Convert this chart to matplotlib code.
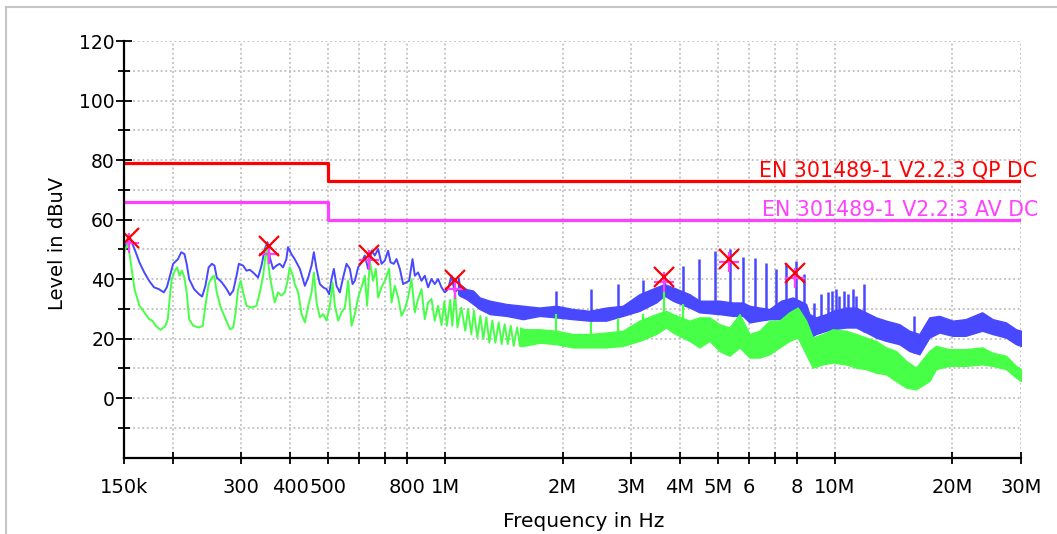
import numpy as np
import matplotlib
matplotlib.use("Agg")
import matplotlib.pyplot as plt
from matplotlib.lines import Line2D
from matplotlib.ticker import FixedLocator, FixedFormatter, NullFormatter

# ---------------- data (frequency in kHz, level in dBuV) ----------------
# peak trace, resolved part
peak_f = [150.0, 150.6, 155.1, 159.6, 164.3, 169.1, 174.0, 179.1, 184.3, 189.7, 193.2, 196.8,
          200.5, 206.4, 210.3, 214.3, 217.2, 220.4, 226.9, 233.6, 238.0, 242.6, 247.3, 252.1,
          256.0, 259.5, 267.2, 275.1, 280.5, 286.0, 291.6, 295.6, 303.2, 309.2, 315.3, 321.6,
          331.2, 337.9, 344.6, 350.0, 354.8, 361.8, 369.0, 376.3, 383.8, 391.4, 395.2, 403.1,
          411.1, 423.9, 436.6, 445.2, 454.2, 460.4, 467.8, 477.0, 486.4, 496.2, 503.9, 511.1,
          518.1, 526.4, 536.8, 547.3, 558.4, 569.4, 578.6, 586.5, 598.0, 610.1, 622.1, 634.4,
          647.3, 660.0, 673.0, 686.6, 700.1, 713.9, 724.1, 738.3, 750.2, 765.0, 780.0, 795.8,
          808.2, 824.6, 835.8, 852.2, 869.5, 886.6, 904.1, 922.3, 940.4, 959.0, 978.5, 997.7,
          1017, 1038, 1058, 1079]
peak_lvl = [50.0, 50.7, 54.0, 50.1, 45.6, 42.2, 39.4, 37.2, 36.6, 35.5, 37.2, 41.1,
            45.1, 46.7, 49.0, 48.4, 45.1, 40.0, 36.6, 34.9, 34.1, 37.7, 43.9, 45.1,
            44.5, 40.5, 38.9, 36.6, 34.6, 36.1, 41.1, 45.1, 44.5, 42.8, 43.1, 42.2,
            40.5, 44.5, 50.1, 52.4, 47.3, 43.4, 44.5, 45.1, 43.9, 46.7, 50.7, 48.4,
            46.7, 43.4, 37.7, 40.5, 44.5, 49.0, 43.4, 38.3, 37.2, 36.6, 34.9, 40.0,
            43.4, 37.7, 35.5, 40.5, 45.1, 43.4, 38.3, 39.4, 43.9, 45.6, 47.9, 43.4,
            49.5, 47.9, 50.1, 45.1, 46.2, 49.5, 45.6, 45.1, 46.7, 43.4, 38.3, 38.9,
            39.4, 46.7, 41.1, 42.2, 39.4, 41.1, 37.2, 40.0, 38.3, 40.0, 37.2, 35.5,
            36.6, 41.1, 35.5, 36.6]

# peak trace, dense part (upper / lower edge of the sweep)
peak_band_f = [1079, 1089, 1133, 1179, 1226, 1301, 1436, 1583, 1747, 1927, 2126, 2346, 2589,
               2855, 3151, 3476, 3651, 3836, 4233, 4491, 5054, 5468, 5801, 6034, 6402, 6789,
               7273, 7792, 8106, 8430, 8597, 8939, 9485, 9864, 10674, 11324, 12251, 12743,
               13517, 14617, 15514, 16457, 17457, 18519, 20037, 21607, 23846, 25370, 27450,
               29121, 30000]
peak_hi = [41.0, 38.3, 36.6, 36.1, 33.8, 32.7, 31.6, 31.0, 30.4, 31.0, 29.9, 29.3, 30.4,
           31.0, 34.9, 37.2, 38.3, 37.2, 34.9, 32.7, 32.7, 32.1, 32.1, 31.0, 30.4, 29.9,
           32.7, 33.8, 32.7, 31.6, 28.2, 27.1, 28.2, 29.3, 30.4, 30.4, 28.2, 27.1,
           26.0, 24.8, 22.6, 21.5, 27.1, 27.6, 26.0, 26.5, 28.8, 26.5, 25.4,
           23.1, 22.6]
peak_lo = [35.0, 34.4, 33.3, 31.6, 29.9, 28.2, 27.6, 26.5, 27.6, 27.1, 26.5, 26.0, 26.0,
           27.6, 29.3, 32.1, 34.4, 32.7, 30.4, 28.8, 28.2, 27.6, 27.6, 25.4, 26.0, 26.5,
           26.5, 28.2, 27.1, 23.7, 20.3, 21.5, 22.6, 23.1, 23.7, 23.7, 21.5, 20.3,
           19.2, 18.1, 15.8, 14.7, 20.3, 22.0, 20.9, 20.9, 22.6, 21.5, 20.3,
           18.1, 17.5]

# narrow-band peaks standing out of the peak sweep
peak_spike_f = [1919, 2360, 2773, 3213, 3650, 4070, 4470, 4920, 5370, 5800, 6230, 6670, 7070,
                7490, 7946, 8346, 8854, 9211, 9580, 9828, 10063, 10262, 10569, 10780, 11103,
                11324, 11894, 15979]
peak_spike_lvl = [36.1, 36.6, 38.3, 39.5, 41.5, 44.5, 46.7, 49.5, 50.2, 47.5, 47.0, 45.4, 43.5,
                  45.5, 46.0, 41.7, 32.1, 34.9, 35.5, 36.1, 36.6, 34.4, 36.1, 34.9, 36.6,
                  34.4, 38.3, 27.6]

# average trace, resolved part
avg_f = [150.0, 150.6, 153.6, 156.5, 159.6, 164.3, 169.1, 174.0, 177.4, 180.8, 186.2, 191.7,
         194.3, 196.4, 198.9, 202.6, 205.3, 208.2, 211.1, 214.3, 217.2, 220.4, 225.6, 233.6,
         238.9, 242.6, 247.3, 252.1, 255.5, 259.5, 265.6, 273.5, 280.5, 286.0, 290.0, 294.3,
         298.8, 303.2, 309.2, 318.5, 328.0, 334.6, 341.2, 348.0, 354.8, 365.4, 372.6, 380.0,
         387.5, 393.6, 399.1, 406.9, 411.1, 419.7, 428.1, 436.6, 445.3, 454.2, 460.4, 467.8,
         477.0, 486.4, 496.2, 506.0, 514.1, 521.2, 531.5, 542.1, 552.9, 563.8, 575.1, 586.5,
         598.0, 610.1, 622.1, 630.7, 640.8, 653.4, 663.9, 673.0, 686.6, 700.1, 718.2, 728.4,
         742.7, 757.3, 772.7, 787.8, 803.4, 819.7, 835.8, 852.2, 869.5, 886.6, 904.1, 922.3,
         940.4, 959.0, 978.5, 995, 1010, 1030, 1043, 1060, 1075, 1100, 1126, 1144, 1167,
         1185, 1209, 1231, 1253, 1275, 1298, 1321, 1345, 1372, 1396, 1421, 1447, 1473,
         1499, 1529, 1556, 1583]
avg_lvl = [48.0, 49.5, 52.0, 44.5, 36.6, 31.0, 28.8, 26.5, 26.0, 24.3, 22.9, 24.3,
           26.5, 33.3, 40.0, 42.8, 43.9, 41.1, 42.8, 40.5, 35.5, 26.5, 24.3, 23.7,
           24.3, 31.0, 38.3, 40.5, 41.1, 35.5, 30.4, 26.5, 23.1, 23.7, 28.8, 36.6,
           39.4, 35.5, 31.0, 30.4, 31.0, 35.5, 41.1, 50.7, 41.1, 32.1, 35.5, 34.4,
           35.5, 38.9, 43.9, 41.1, 38.3, 35.5, 28.2, 25.4, 31.0, 35.5, 42.2, 32.1,
           27.1, 28.2, 26.0, 31.0, 38.9, 31.0, 26.0, 28.8, 30.4, 39.4, 24.3, 28.2,
           33.8, 37.2, 41.1, 31.0, 46.0, 39.4, 43.4, 33.8, 37.2, 39.4, 43.4, 32.1,
           37.7, 33.8, 27.6, 29.9, 33.8, 40.0, 28.8, 33.3, 36.6, 26.5, 32.1, 33.3,
           26.0, 31.0, 24.5, 32.5, 24.3, 33.0, 24.3, 36.0, 23.7, 30.4, 22.6, 29.9, 21.5,
           29.3, 20.3, 27.6, 19.8, 27.1, 18.6, 26.0, 18.6, 25.4, 18.1, 24.8, 18.1, 24.3,
           17.5, 23.7, 17.5, 23.1]

# average trace, dense part
avg_band_f = [1556, 1583, 1750, 1927, 2126, 2346, 2589, 2855, 3151, 3476, 3687, 3836, 4233,
              4491, 4764, 5054, 5362, 5688, 6034, 6402, 6789, 7202, 7640, 8024, 8430, 8768,
              9301, 9864, 10674, 11324, 12011, 12743, 13517, 14339, 15212, 16128, 17457,
              18159, 19638, 21607, 23846, 25370, 27450, 29121, 30000]
avg_hi = [23.7, 23.1, 23.1, 22.6, 21.5, 21.5, 22.0, 22.6, 26.0, 28.2, 29.3, 28.2, 26.0,
          27.1, 27.1, 24.8, 23.7, 28.2, 21.5, 22.6, 26.0, 26.0, 28.8, 30.4, 26.0, 20.3,
          21.5, 23.1, 22.6, 21.5, 20.3, 19.2, 17.0, 15.8, 12.5, 10.2, 15.8,
          17.5, 16.4, 16.4, 17.0, 15.2, 14.2, 10.8, 9.7]
avg_lo = [17.5, 17.5, 18.6, 18.1, 17.0, 17.0, 17.0, 17.5, 19.2, 21.5, 23.7, 22.0, 19.2,
          17.0, 19.2, 15.8, 14.2, 17.0, 13.6, 13.6, 14.7, 17.0, 19.2, 20.3, 14.7, 10.2,
          11.3, 11.9, 11.3, 10.2, 9.7, 8.5, 8.0, 5.7, 3.5, 2.9, 5.7,
          9.7, 10.8, 10.8, 11.3, 10.8, 9.7, 6.9, 5.7]

avg_spike_f = [1919, 2360, 2773, 3213, 3650, 4070]
avg_spike_lvl = [28.2, 25.5, 27.0, 28.3, 35.5, 31.6]

# final measurement points
mark_f = [154.5, 354.0, 636.0, 1058.0, 3640.0, 5360.0, 7910.0]
mark_qp = [53.7, 51.2, 48.1, 39.5, 40.8, 46.7, 42.0]
mark_av = [52.2, 48.4, 46.5, 36.6, 39.1, 45.6, 40.3]

# limit lines
limit_f = [150.0, 500.0, 30000.0]
limit_qp = [79.0, 73.0, 73.0]
limit_av = [66.0, 60.0, 60.0]
label_qp = "EN 301489-1 V2.2.3 QP DC"
label_av = "EN 301489-1 V2.2.3 AV DC"

# axis ticks
xtick_khz = [150, 200, 300, 400, 500, 600, 700, 800, 1000, 2000, 3000, 4000, 5000, 6000,
             7000, 8000, 10000, 20000, 30000]
xtick_labels = ["150k", "", "300", "400", "500", "", "", "800", "1M", "2M", "3M", "4M", "5M",
                "6", "", "8", "10M", "20M", "30M"]
ytick_major = [0, 20, 40, 60, 80, 100, 120]
ytick_minor = [-10, 10, 30, 50, 70, 90, 110]

# ---------------- drawing ----------------
BLUE = "#4848ff"
GREEN = "#48ff48"
RED = "#ff0000"
MAGENTA = "#ff40ff"
GRID = "#b4b4b4"

plt.rcParams["font.family"] = ["DejaVu Sans"]

W, H = 1057, 534
fig = plt.figure(figsize=(W / 100, H / 100), dpi=100)
fig.patch.set_facecolor("white")
ax = fig.add_axes([124 / W, 1 - 457.5 / H, (1021 - 124) / W, (457.5 - 41) / H])

khz = lambda v: np.asarray(v, dtype=float) * 1e3

ax.set_xscale("log")
ax.set_xlim(150e3, 30e6)
ax.set_ylim(-20, 120)

# grid
for f in xtick_khz[1:]:
    ax.axvline(f * 1e3, color=GRID, lw=1.1, ls=(0, (1.2, 1.8)), zorder=0)
for v in ytick_major + ytick_minor:
    ax.axhline(v, color=GRID, lw=1.1, ls=(0, (1.2, 1.8)), zorder=0)

# peak trace
ax.plot(khz(peak_f), peak_lvl, color=BLUE, lw=1.4, zorder=2)
ax.fill_between(khz(peak_band_f), peak_lo, peak_hi, color=BLUE, lw=1.0, edgecolor=BLUE, zorder=2)
logb = np.log10(khz(peak_band_f))
spike_base = np.interp(np.log10(khz(peak_spike_f)), logb, peak_lo)
ax.vlines(khz(peak_spike_f), spike_base, peak_spike_lvl, color=BLUE, lw=1.8, zorder=2)

# average trace
ax.plot(khz(avg_f), avg_lvl, color=GREEN, lw=1.4, zorder=3)
ax.fill_between(khz(avg_band_f), avg_lo, avg_hi, color=GREEN, lw=1.0, edgecolor=GREEN, zorder=3)
loga = np.log10(khz(avg_band_f))
aspike_base = np.interp(np.log10(khz(avg_spike_f)), loga, avg_lo)
ax.vlines(khz(avg_spike_f), aspike_base, avg_spike_lvl, color=GREEN, lw=1.6, zorder=3)

# limits
ax.plot(khz(limit_f), limit_qp, color=RED, lw=2.3, drawstyle="steps-post", zorder=4,
        solid_capstyle="butt")
ax.plot(khz(limit_f), limit_av, color=MAGENTA, lw=2.3, drawstyle="steps-post", zorder=4,
        solid_capstyle="butt")
ax.annotate(label_qp, xy=(limit_f[-1] * 1e3, limit_qp[-1]), xytext=(16, 4),
            textcoords="offset pixels", ha="right", va="baseline", color=RED, fontsize=14.8,
            annotation_clip=False)
ax.annotate(label_av, xy=(limit_f[-1] * 1e3, limit_av[-1]), xytext=(17, 4),
            textcoords="offset pixels", ha="right", va="baseline", color=MAGENTA, fontsize=14.8,
            annotation_clip=False)

# measurement markers
ax.plot(khz(mark_f), mark_qp, ls="none", marker="x", color=RED, ms=14, mew=1.6, zorder=6)
ax.plot(khz(mark_f), mark_av, ls="none", marker="+", color=MAGENTA, ms=15, mew=1.6, zorder=5)

# axes styling
for side in ("top", "right"):
    ax.spines[side].set_visible(False)
for side in ("left", "bottom"):
    ax.spines[side].set_linewidth(1.6)
    ax.spines[side].set_color("black")
    ax.spines[side].set_zorder(7)

ax.xaxis.set_major_locator(FixedLocator(khz(xtick_khz)))
ax.xaxis.set_major_formatter(FixedFormatter(xtick_labels))
ax.xaxis.set_minor_formatter(NullFormatter())
ax.xaxis.set_minor_locator(FixedLocator([]))
ax.yaxis.set_major_locator(FixedLocator(ytick_major))
ax.yaxis.set_minor_locator(FixedLocator(ytick_minor))

ax.tick_params(axis="x", which="major", direction="inout", length=8.5, width=1.3,
               pad=10.5, labelsize=14)
ax.tick_params(axis="y", which="major", direction="inout", length=12, width=1.3,
               pad=0.5, labelsize=13.5)
ax.tick_params(axis="y", which="minor", direction="inout", length=9, width=1.3)

ax.set_ylabel("Level in dBuV", fontsize=14)
ax.yaxis.set_label_coords((67 - 124) / (1021 - 124), (457.5 - 243) / 416.5)
fig.text(584 / W, 1 - 512 / H, "Frequency in Hz", ha="center", va="top", fontsize=14.5)

# panel frame
fig.add_artist(Line2D([6 / W, 6 / W], [0, 1 - 7 / H], transform=fig.transFigure,
                      color="#c4c4c4", lw=1.5))
fig.add_artist(Line2D([6 / W, 1], [1 - 7 / H, 1 - 7 / H], transform=fig.transFigure,
                      color="#c4c4c4", lw=1.5))

fig.savefig("out.png", dpi=100, facecolor="white")
